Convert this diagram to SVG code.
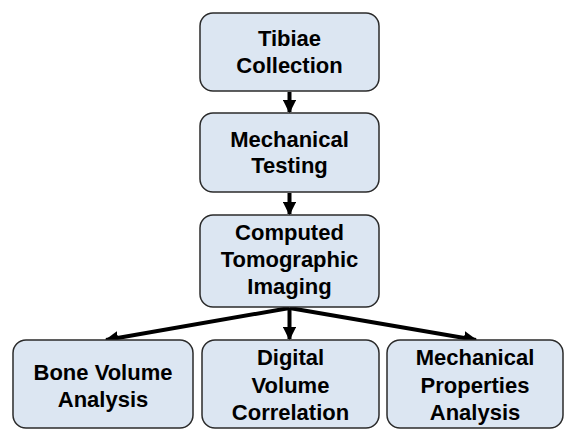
<svg xmlns="http://www.w3.org/2000/svg" width="564" height="429" viewBox="0 0 564 429">
<style>
.box{fill:#dce6f2;stroke:#2b2b2b;stroke-width:1.5}
.t{font-family:"Liberation Sans",Arial,sans-serif;font-weight:bold;font-size:22px;fill:#000;text-anchor:middle}
.c{stroke:#000;stroke-width:4;fill:none}
</style>
<defs>
<marker id="ah" viewBox="0 0 10 10" refX="9" refY="5" markerWidth="3.4" markerHeight="3.4" orient="auto" markerUnits="strokeWidth">
<path d="M0,0 L10,5 L0,10 z" fill="#000"/>
</marker>
</defs>
<rect width="564" height="429" fill="#fff"/>
<g id="connectors">
<line class="c" x1="289.5" y1="92" x2="289.5" y2="112" marker-end="url(#ah)"/>
<line class="c" x1="289.5" y1="193" x2="289.5" y2="214" marker-end="url(#ah)"/>
<line class="c" x1="289.5" y1="308" x2="289.5" y2="339" marker-end="url(#ah)"/>
<line class="c" x1="289.5" y1="308" x2="106" y2="340" marker-end="url(#ah)"/>
<line class="c" x1="289.5" y1="308" x2="476" y2="340" marker-end="url(#ah)"/>
</g>
<g id="n1">
<rect class="box" x="200" y="13" width="179" height="78" rx="13"/>
<text class="t" x="289.5" y="46">Tibiae</text>
<text class="t" x="289.5" y="73">Collection</text>
</g>
<g id="n2">
<rect class="box" x="200" y="113" width="179" height="79" rx="13"/>
<text class="t" x="289.5" y="147">Mechanical</text>
<text class="t" x="289.5" y="173">Testing</text>
</g>
<g id="n3">
<rect class="box" x="200" y="215" width="179" height="92" rx="13"/>
<text class="t" x="289.5" y="240">Computed</text>
<text class="t" x="289.5" y="267">Tomographic</text>
<text class="t" x="289.5" y="294">Imaging</text>
</g>
<g id="n4">
<rect class="box" x="13" y="340" width="180" height="88" rx="13"/>
<text class="t" x="103" y="380">Bone Volume</text>
<text class="t" x="103" y="407">Analysis</text>
</g>
<g id="n5">
<rect class="box" x="202" y="340" width="177" height="88" rx="13"/>
<text class="t" x="290.5" y="365">Digital</text>
<text class="t" x="290.5" y="393">Volume</text>
<text class="t" x="290.5" y="420">Correlation</text>
</g>
<g id="n6">
<rect class="box" x="387" y="340" width="176" height="88" rx="13"/>
<text class="t" x="475" y="365">Mechanical</text>
<text class="t" x="475" y="393">Properties</text>
<text class="t" x="475" y="420">Analysis</text>
</g>
</svg>
